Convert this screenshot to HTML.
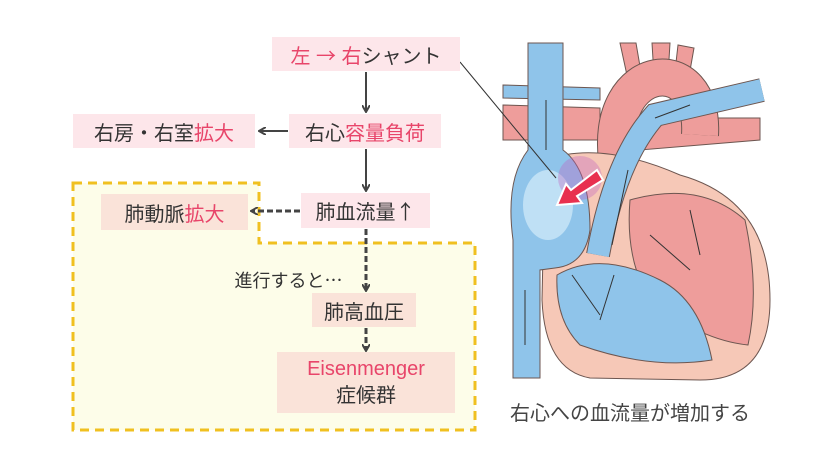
<!DOCTYPE html>
<html><head><meta charset="utf-8"><style>
body{margin:0;width:832px;height:468px;background:#fff;overflow:hidden;position:relative;font-family:"Liberation Sans","Noto Sans CJK JP",sans-serif;color:#333}
.b{position:absolute;display:flex;align-items:center;justify-content:center;font-size:20px;white-space:nowrap}
.p{background:#fde6ea}.q{background:#fae3d9}
.r{color:#e8456a}
.ar{font-family:"Noto Sans CJK JP",sans-serif}
svg{position:absolute;left:0;top:0}
</style></head><body>
<svg width="832" height="468">
<polygon points="73,183 259,183 259,243 475,243 475,430 73,430" fill="#fdfde9" stroke="#f0c020" stroke-width="3" stroke-dasharray="9,6"/>
<defs><marker id="a" markerWidth="8" markerHeight="8" refX="6" refY="4" orient="auto" markerUnits="userSpaceOnUse"><path d="M0,0 L7,4 L0,8" fill="none" stroke="#444" stroke-width="2"/></marker></defs>
<g stroke="#444" stroke-width="2" fill="none">
<line x1="366" y1="72" x2="366" y2="111" marker-end="url(#a)"/>
<line x1="288" y1="131" x2="260" y2="131" marker-end="url(#a)"/>
<line x1="366" y1="149" x2="366" y2="190" marker-end="url(#a)"/>
<line x1="300" y1="211" x2="252" y2="211" stroke-dasharray="6,3" stroke-width="3" marker-end="url(#a)"/>
<line x1="366" y1="229" x2="366" y2="290" stroke-dasharray="6,3" stroke-width="3" marker-end="url(#a)"/>
<line x1="366" y1="328" x2="366" y2="350" stroke-dasharray="6,3" stroke-width="3" marker-end="url(#a)"/>
</g>
<!-- heart -->
<g stroke="#6d5650" stroke-width="1">
<path d="M620,43 L628,80 L642,78 L636,43 Z M652,43 L654,76 L668,76 L670,43 Z M678,45 L674,80 L688,82 L694,48 Z" fill="#ee9d9b"/>
<path d="M503,85 L600,88 L600,100 L503,98 Z" fill="#8fc4ea"/>
<path d="M503,105 L600,108 L600,140 L503,140 Z" fill="#ee9d9b"/>
<path d="M640,118 L760,118 L760,140 L640,150 Z" fill="#ee9d9b"/>
</g>
<path d="M617,160 C605,60 705,50 700,135" fill="none" stroke="#6d5650" stroke-width="38"/>
<path d="M617,160 C605,60 705,50 700,135" fill="none" stroke="#ee9d9b" stroke-width="36"/>
<g stroke="#6d5650" stroke-width="1">
<path d="M545,160 Q600,140 680,175 Q770,200 770,300 Q770,380 700,380 L590,378 Q545,370 542,300 Z" fill="#f6c8b7"/>
<path d="M630,200 Q700,180 745,220 Q760,290 748,345 Q700,340 650,300 Q625,260 630,200 Z" fill="#ee9d9b"/>
<path d="M557,275 Q600,250 660,280 Q700,300 712,360 Q650,370 580,345 Q555,320 557,275 Z" fill="#8fc4ea"/>
<path d="M528,43 L563,43 L563,150 Q590,170 590,230 Q585,265 555,268 L540,270 L540,378 L513,378 L513,240 Q505,180 528,150 Z" fill="#8fc4ea"/>
</g>
<ellipse cx="548" cy="205" rx="25" ry="35" fill="#bfe0f5"/>
<path d="M598,255 Q615,160 655,115 L762,90" fill="none" stroke="#6d5650" stroke-width="24"/>
<path d="M598,255 Q615,160 655,115 L762,90" fill="none" stroke="#8fc4ea" stroke-width="22"/>
<g stroke="#333" stroke-width="1" fill="none">
<line x1="546" y1="100" x2="546" y2="150"/><line x1="525" y1="345" x2="525" y2="290"/>
<line x1="600" y1="320" x2="614" y2="275"/><line x1="572" y1="275" x2="600" y2="315"/>
<line x1="690" y1="210" x2="700" y2="255"/><line x1="690" y1="270" x2="650" y2="235"/>
<line x1="612" y1="245" x2="628" y2="170"/><line x1="690" y1="105" x2="655" y2="118"/>
<line x1="460" y1="62" x2="556" y2="178"/>
</g>
<circle cx="580" cy="178" r="22" fill="#c060c0" opacity="0.35"/>
<polygon points="597,170 603,180 577,196 582,203 557,205 566,184 571,190" fill="#e8304f" stroke="#fff" stroke-width="2"/>
</svg>
<div class="b p" style="left:272px;top:37px;width:188px;height:34px"><span class="r">左 <span class="ar">→</span> 右</span>シャント</div>
<div class="b p" style="left:289px;top:114px;width:152px;height:34px">右心<span class="r">容量負荷</span></div>
<div class="b p" style="left:73px;top:114px;width:182px;height:34px">右房・右室<span class="r">拡大</span></div>
<div class="b p" style="left:301px;top:193px;width:129px;height:35px">肺血流量<span class="ar">↑</span></div>
<div class="b q" style="left:101px;top:194px;width:147px;height:36px">肺動脈<span class="r">拡大</span></div>
<div class="b" style="left:226px;top:268px;width:125px;height:24px;font-size:18px">進行すると<span class="ar">…</span></div>
<div class="b q" style="left:312px;top:293px;width:104px;height:34px">肺高血圧</div>
<div class="b q" style="left:277px;top:352px;width:178px;height:61px;flex-direction:column;line-height:27px"><span class="r">Eisenmenger</span><span>症候群</span></div>
<div class="b" style="left:492px;top:397px;width:276px;height:28px;font-size:20px;color:#444">右心への血流量が増加する</div>
</body></html>
